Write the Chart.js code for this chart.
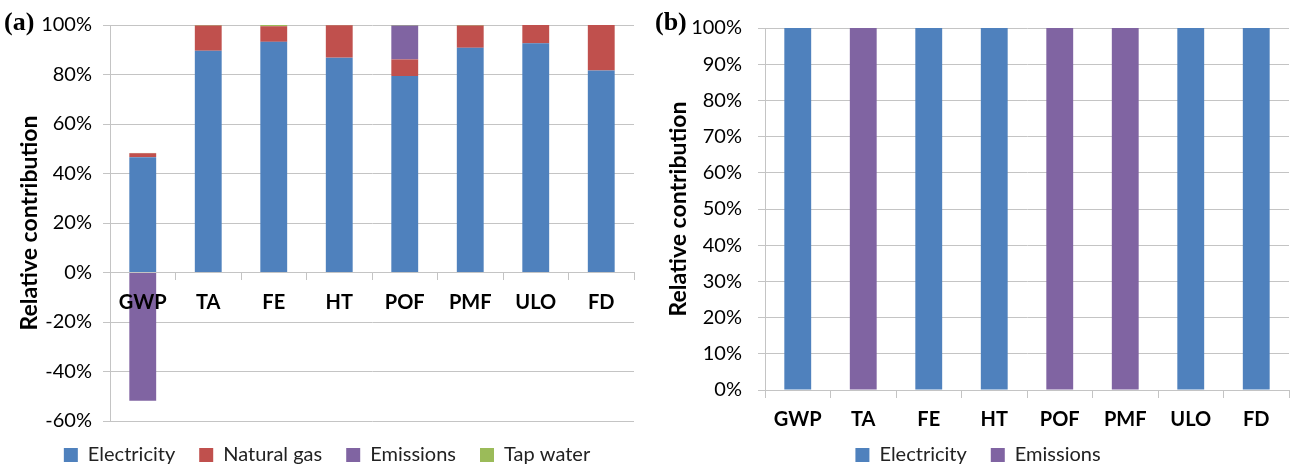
<!DOCTYPE html>
<html><head><meta charset="utf-8">
<script src="https://cdn.jsdelivr.net/npm/chart.js@4"></script>
<style>
html,body{margin:0;padding:0;background:#fff;}
#wrap{position:relative;width:1295px;height:467px;overflow:hidden;background:#fff;}
.panel{position:absolute;top:0;height:467px;}
#pa{left:0;width:647px;} #pb{left:647px;width:648px;}
.lab{position:absolute;top:9px;line-height:26px;font-family:"Liberation Serif","Times New Roman",serif;font-weight:bold;font-size:26px;color:#000;}
</style></head><body>
<div id="wrap">
<div class="panel" id="pa"><canvas id="ca"></canvas></div>
<div class="panel" id="pb"><canvas id="cb"></canvas></div>
<div class="lab" style="left:4px">(a)</div>
<div class="lab" style="left:655px">(b)</div>
</div>
<script>
// ---- data ----
const categories = ['GWP', 'TA', 'FE', 'HT', 'POF', 'PMF', 'ULO', 'FD'];
// panel (a) : relative contribution, %
const electricityA = [46.6, 89.6, 93.2, 86.8, 79.4, 90.8, 92.6, 81.6];
const naturalGasA  = [1.6, 10.2, 6.3, 13.1, 6.7, 9.0, 7.4, 18.4];
const emissionsA   = [-51.8, 0, 0, 0, 13.7, 0, 0, 0];
const tapWaterA    = [0.1, 0.2, 0.5, 0.1, 0.2, 0.2, 0, 0];
// panel (b)
const electricityB = [100, null, 100, 100, null, null, 100, 100];
const emissionsB   = [null, 100, null, null, 100, 100, null, null];
// axis ticks
const yTicksA = [-60, -40, -20, 0, 20, 40, 60, 80, 100];
const yTicksB = [0, 10, 20, 30, 40, 50, 60, 70, 80, 90, 100];
const yTitle = 'Relative contribution';

const COLORS = {elec: '#4F81BD', gas: '#C0504D', emis: '#8064A2', tap: '#9BBB59'};
const GRID = '#C4C4C4';
const FONT = 'Lato';
const SHIFT = 20; // left layout padding (centres the legend like the original)

function ds(label, data, color) {
  return {label, data, backgroundColor: color, borderWidth: 0,
          categoryPercentage: 1.0, barPercentage: 0.41};
}

function makeChart(id, datasets, yMin, yMax, yTicks, cfg) {
  return new Chart(document.getElementById(id), {
    type: 'bar',
    data: {labels: categories, datasets},
    options: {
      responsive: true, maintainAspectRatio: false, animation: false,
      layout: {padding: {left: SHIFT, top: 25, right: cfg.right, bottom: -8}},
      plugins: {
        tooltip: {enabled: false},
        legend: {
          position: 'bottom',
          title: {display: cfg.legendGap > 0, text: ' ', font: {size: 10},
                  padding: {top: Math.max(cfg.legendGap - 12, 0), bottom: 0}},
          labels: {font: {family: FONT, size: 20}, color: '#222', boxWidth: 14, boxHeight: 14, padding: 24}
        }
      },
      scales: {
        x: {
          stacked: true,
          position: {y: 0},
          grid: {offset: true, drawOnChartArea: false, drawTicks: true, tickLength: 7, color: GRID},
          border: {display: true, color: GRID},
          ticks: {font: {family: FONT, size: 20, weight: 'bold'}, color: '#000', padding: 11,
                  maxRotation: 0, autoSkip: false, z: 1}
        },
        y: {
          stacked: true, min: yMin, max: yMax,
          afterBuildTicks: (s) => { s.ticks = yTicks.map(v => ({value: v})); },
          grid: {color: GRID, tickLength: 7},
          border: {display: true, color: GRID},
          ticks: {font: {family: FONT, size: 20}, color: '#000', padding: cfg.tickPad,
                  callback: (v) => v + '%'},
          title: {display: true, text: yTitle, color: '#000',
                  font: {family: FONT, size: 23, weight: 'bold'},
                  padding: {top: cfg.titlePad - SHIFT, bottom: 0}},
          afterFit: (s) => { s.width = cfg.yWidth - SHIFT; }
        }
      }
    }
  });
}

makeChart('ca', [
  ds('Electricity', electricityA, COLORS.elec),
  ds('Natural gas', naturalGasA, COLORS.gas),
  ds('Emissions', emissionsA, COLORS.emis),
  ds('Tap water', tapWaterA, COLORS.tap)
], -60, 100, yTicksA, {right: 13, tickPad: 11, titlePad: 16, yWidth: 110, legendGap: 0});

makeChart('cb', [
  ds('Electricity', electricityB, COLORS.elec),
  ds('Emissions', emissionsB, COLORS.emis)
], 0, 100, yTicksB, {right: 6, tickPad: 16, titlePad: 18, yWidth: 118, legendGap: 31});
</script>
</body></html>
